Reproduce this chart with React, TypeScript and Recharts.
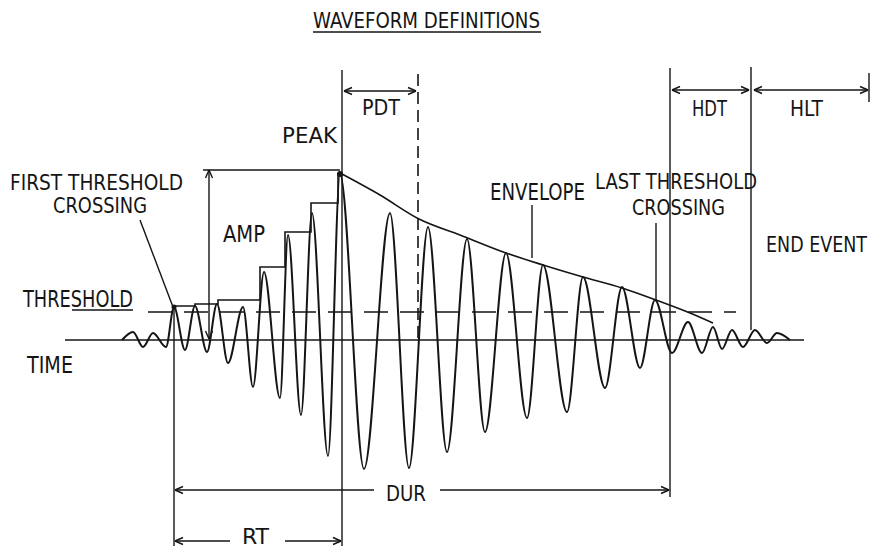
import { LineChart, Line, XAxis, YAxis, ReferenceLine, ReferenceDot } from 'recharts'

// burst waveform: time of each extremum and its amplitude (baseline = 0)
const waveTime = [122, 133, 143, 153, 166, 174, 185, 195, 207, 217, 228, 243, 253, 264, 280, 288, 301, 312, 328, 340, 364, 390, 409, 428, 447, 467, 485, 506, 527, 543, 567, 583, 605, 622, 640, 655, 672, 688, 702, 713, 722, 732, 743, 755, 767, 777, 790]
const waveAmp = [0, 8, -7, 7, -7, 33, -10, 34, -12, 36, -23, 33, -47, 68, -58, 105, -75, 127, -116, 166, -129, 127, -128, 113, -112, 101, -92, 87, -78, 75, -72, 63, -48, 53, -28, 40, -13, 18, -13, 13, -9, 10, -7, 10, -3, 7, 0]

// decaying envelope after the peak
const envelopeTime = [340, 380, 419, 460, 506, 543, 583, 622, 656, 690, 713]
const envelopeAmp = [167, 145, 121, 105, 87, 75, 63, 52, 40, 27, 17]

// running maximum (staircase) up to the peak
const stepTime = [174, 195, 218, 260, 285, 311, 338, 340]
const stepAmp = [34, 36, 40, 73, 108, 137, 166, 166]

const thresholdLevel = 28
const ampLevel = 170

// event times
const tFirst = 174
const tPeak = 342
const tPdt = 418
const tLast = 670
const tHdt = 751
const tHlt = 869

const INK = '#151515'
const FONT = "'Liberation Sans Narrow', 'DejaVu Sans Condensed', 'Liberation Sans', sans-serif"

const waveData = waveTime.map((t, i) => ({ t, a: waveAmp[i] }))
const envelopeData = envelopeTime.map((t, i) => ({ t, a: envelopeAmp[i] }))
const stepData = stepTime.map((t, i) => ({ t, a: stepAmp[i] }))

type Pt = { x: number; y: number }
type Seg = [Pt, Pt]

// arrow head as two short strokes at the tip, pointing along (dx, dy)
function head(tip: Pt, dx: number, dy: number): Seg[] {
  const L = 8
  const W = 3.5
  const bx = tip.x - dx * L
  const by = tip.y - dy * L
  return [
    [tip, { x: bx - dy * W, y: by + dx * W }],
    [tip, { x: bx + dy * W, y: by - dx * W }],
  ]
}

function arrow(a: Pt, b: Pt, startHead: boolean, endHead: boolean): Seg[] {
  const len = Math.hypot(b.x - a.x, b.y - a.y)
  const dx = (b.x - a.x) / len
  const dy = (b.y - a.y) / len
  const out: Seg[] = [[a, b]]
  if (endHead) out.push(...head(b, dx, dy))
  if (startHead) out.push(...head(a, -dx, -dy))
  return out
}

const solidSegs: Seg[] = [
  // time axis
  [{ x: 65, y: 0 }, { x: 804, y: 0 }],
  // event verticals
  [{ x: tFirst, y: 33 }, { x: tFirst, y: -206 }],
  [{ x: tPeak, y: 270 }, { x: tPeak, y: -206 }],
  [{ x: tLast, y: 272 }, { x: tLast, y: -157 }],
  [{ x: tHdt, y: 273 }, { x: tHdt, y: 10 }],
  [{ x: tHlt, y: 267 }, { x: tHlt, y: 238 }],
  // amplitude reference line
  [{ x: 203, y: ampLevel }, { x: 340, y: ampLevel }],
  // leaders
  [{ x: 140, y: 120 }, { x: 173, y: 33 }],
  [{ x: 532, y: 135 }, { x: 532, y: 82 }],
  [{ x: 656, y: 117 }, { x: 656, y: 40 }],
  // underlines
  [{ x: 313, y: 308 }, { x: 541, y: 308 }],
  [{ x: 72, y: 30 }, { x: 133, y: 30 }],
  // arrows
  ...arrow({ x: tPeak + 2, y: 249 }, { x: tPdt - 2, y: 249 }, true, true),
  ...arrow({ x: tLast + 2, y: 250 }, { x: tHdt - 2, y: 250 }, true, true),
  ...arrow({ x: tHdt + 3, y: 250 }, { x: tHlt - 1, y: 250 }, true, true),
  ...arrow({ x: 209, y: ampLevel }, { x: 209, y: 1 }, true, true),
  ...arrow({ x: 374, y: -150 }, { x: tFirst + 1, y: -150 }, false, true),
  ...arrow({ x: 440, y: -150 }, { x: tLast - 1, y: -150 }, false, true),
  ...arrow({ x: 230, y: -201 }, { x: tFirst + 1, y: -201 }, false, true),
  ...arrow({ x: 285, y: -201 }, { x: tPeak - 1, y: -201 }, false, true),
]

const dashedSegs: { seg: Seg; dash: string }[] = [
  { seg: [{ x: 148, y: thresholdLevel }, { x: 736, y: thresholdLevel }], dash: '24 12' },
  { seg: [{ x: tPdt, y: 266 }, { x: tPdt, y: 0 }], dash: '12 6' },
]

const labels = [
  { text: 'WAVEFORM DEFINITIONS', x: 313, y: 312, w: 227, size: 22 },
  { text: 'PEAK', x: 282, y: 197, w: 55, size: 22 },
  { text: 'PDT', x: 362, y: 225, w: 38, size: 22 },
  { text: 'HDT', x: 692, y: 224, w: 35, size: 22 },
  { text: 'HLT', x: 790, y: 224, w: 33, size: 22 },
  { text: 'FIRST THRESHOLD', x: 10, y: 150, w: 173, size: 21 },
  { text: 'CROSSING', x: 53, y: 127, w: 94, size: 21 },
  { text: 'AMP', x: 223, y: 98, w: 42, size: 23 },
  { text: 'ENVELOPE', x: 490, y: 140, w: 95, size: 23 },
  { text: 'LAST THRESHOLD', x: 595, y: 151, w: 162, size: 21 },
  { text: 'CROSSING', x: 632, y: 125, w: 93, size: 21 },
  { text: 'END EVENT', x: 766, y: 88, w: 101, size: 22 },
  { text: 'THRESHOLD', x: 23, y: 33, w: 110, size: 23 },
  { text: 'TIME', x: 27, y: -33, w: 46, size: 23 },
  { text: 'DUR', x: 386, y: -161, w: 40, size: 22 },
  { text: 'RT', x: 242, y: -204, w: 27, size: 21 },
]

export default function App() {
  return (
    <div style={{ position: 'absolute', left: 0, top: 0, background: '#fff' }}>
      <LineChart width={877} height={546} margin={{ top: 0, right: 0, bottom: 0, left: 0 }}>
        <XAxis type="number" dataKey="t" domain={[0, 877]} hide allowDataOverflow />
        <YAxis type="number" dataKey="a" domain={[-206, 340]} hide allowDataOverflow />
        {solidSegs.map((s, i) => (
          <ReferenceLine key={'s' + i} segment={s} stroke={INK} strokeWidth={1.4} ifOverflow="visible" />
        ))}
        {dashedSegs.map((d, i) => (
          <ReferenceLine key={'d' + i} segment={d.seg} stroke={INK} strokeWidth={1.6} strokeDasharray={d.dash} ifOverflow="visible" />
        ))}
        <Line data={stepData} dataKey="a" type="stepAfter" stroke={INK} strokeWidth={1.6} dot={false} activeDot={false} isAnimationActive={false} />
        <Line data={envelopeData} dataKey="a" type="monotone" stroke={INK} strokeWidth={1.6} dot={false} activeDot={false} isAnimationActive={false} />
        <Line data={waveData} dataKey="a" type="monotone" stroke={INK} strokeWidth={2} dot={false} activeDot={false} isAnimationActive={false} />
        <ReferenceDot x={340} y={166} r={3} fill={INK} stroke="none" />
        <ReferenceDot x={174} y={33} r={2.5} fill={INK} stroke="none" />
        {labels.map((l, i) => (
          <ReferenceDot
            key={'l' + i}
            x={l.x}
            y={l.y}
            r={0}
            ifOverflow="visible"
            shape={(p: { cx: number; cy: number }) => (
              <text
                x={p.cx}
                y={p.cy}
                textLength={l.w}
                lengthAdjust="spacingAndGlyphs"
                fontSize={l.size}
                fontFamily={FONT}
                fill={INK}
              >
                {l.text}
              </text>
            )}
          />
        ))}
      </LineChart>
    </div>
  )
}
